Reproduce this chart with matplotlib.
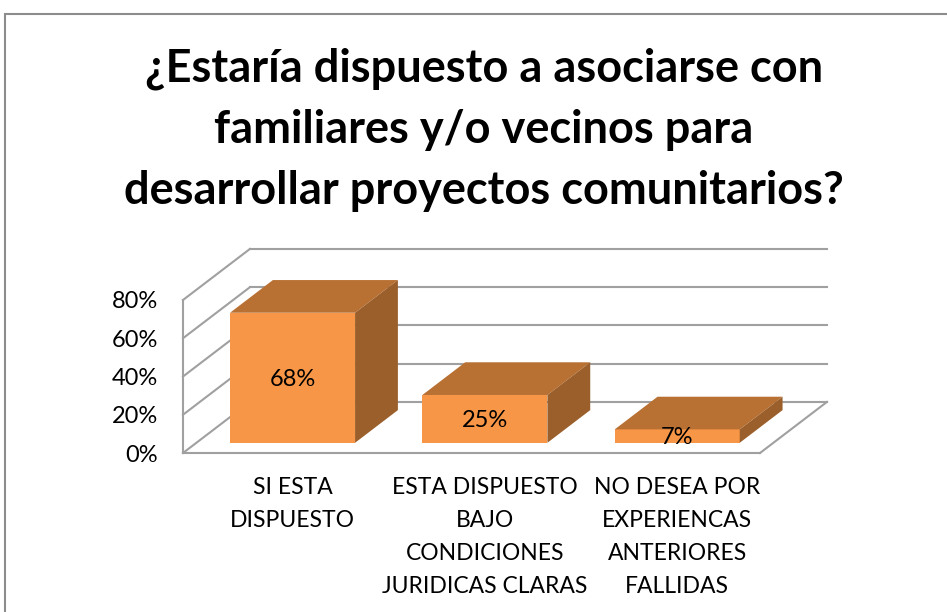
import matplotlib
matplotlib.use("Agg")
import matplotlib.pyplot as plt
from matplotlib.patches import Polygon, Rectangle

plt.rcParams["font.family"] = ["Lato", "DejaVu Sans"]

# data
categories = [
    "SI ESTA\nDISPUESTO",
    "ESTA DISPUESTO\nBAJO\nCONDICIONES\nJURIDICAS CLARAS",
    "NO DESEA POR\nEXPERIENCAS\nANTERIORES\nFALLIDAS",
]
values = [68, 25, 7]
labels = ["68%", "25%", "7%"]
yticks = [0, 20, 40, 60, 80]
title = "¿Estaría dispuesto a asociarse con\nfamiliares y/o vecinos para\ndesarrollar proyectos comunitarios?"

front_color = "#F79646"
top_color = "#B97033"
side_color = "#9B5F2B"
grid_color = "#A0A0A0"

# oblique depth of the 3d box (data units) and bar placement within it
DX, DY = 0.348, 26.7
f0, f1 = 0.2, 0.84
w = 0.65

fig = plt.figure(figsize=(9.47, 6.12), dpi=100)
ax = fig.add_axes([183 / 947, 159 / 612, 577 / 947, 153 / 612])
ax.set_xlim(0, 3)
ax.set_ylim(0, 80)
for s in ax.spines.values():
    s.set_visible(False)

# walls and floor
for g in yticks:
    ax.plot([DX, 3 + DX], [g + DY, g + DY], color=grid_color, lw=1.5, clip_on=False, zorder=1)
    ax.plot([0, DX], [g, g + DY], color=grid_color, lw=1.5, clip_on=False, zorder=1)
ax.plot([0, 0], [0, yticks[-1]], color=grid_color, lw=1.5, clip_on=False, zorder=1)
ax.plot([0, 3], [0, 0], color=grid_color, lw=1.5, clip_on=False, zorder=1)
ax.plot([3, 3 + DX], [0, DY], color=grid_color, lw=1.5, clip_on=False, zorder=1)

# bars
centers = []
for i, v in enumerate(values):
    xl = i + 0.5 - w / 2
    xr = xl + w
    ax.bar(xl + f0 * DX, v, width=w, bottom=f0 * DY, align="edge",
           color=front_color, clip_on=False, zorder=3)
    top = [(xl + f0 * DX, v + f0 * DY), (xr + f0 * DX, v + f0 * DY),
           (xr + f1 * DX, v + f1 * DY), (xl + f1 * DX, v + f1 * DY)]
    side = [(xr + f0 * DX, f0 * DY), (xr + f1 * DX, f1 * DY),
            (xr + f1 * DX, v + f1 * DY), (xr + f0 * DX, v + f0 * DY)]
    ax.add_patch(Polygon(top, closed=True, facecolor=top_color, edgecolor="none", clip_on=False, zorder=3))
    ax.add_patch(Polygon(side, closed=True, facecolor=side_color, edgecolor="none", clip_on=False, zorder=3))
    cx = i + 0.5 + f0 * DX
    centers.append(cx)
    ax.text(cx, f0 * DY + v / 2 - 0.8, labels[i], ha="center", va="center", fontsize=17, zorder=4)

ax.set_yticks(yticks)
ax.set_yticklabels([f"{t}%" for t in yticks], fontsize=17)
ax.set_xticks(centers)
ax.set_xticklabels(categories, fontsize=16.5, linespacing=1.72, va="top")
ax.tick_params(axis="y", length=0, pad=18)
ax.tick_params(axis="x", length=0, pad=17)

fig.text(484 / 947, 1 - 47 / 612, title, ha="center", va="top",
         fontsize=32.5, fontweight="bold", linespacing=1.57)

fig.patches.append(Rectangle((5 / 947, -0.1), 1.1, (612 - 14) / 612 + 0.1,
                             transform=fig.transFigure, fill=False,
                             edgecolor="#8C8C8C", lw=1.5))

fig.savefig("out.png", dpi=100)
